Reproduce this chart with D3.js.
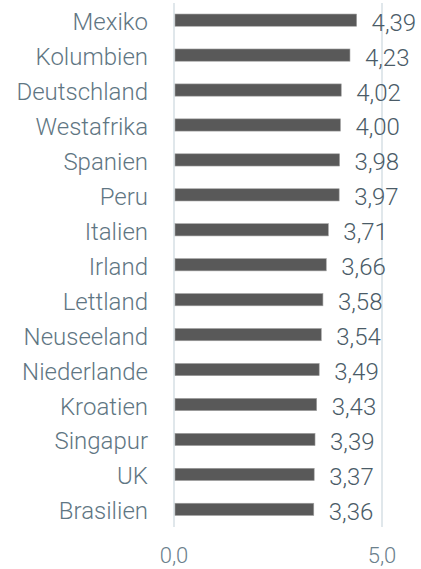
<!DOCTYPE html>
<html>
<head>
<meta charset="utf-8">
<script src="https://cdn.jsdelivr.net/npm/d3@7"></script>
<style>
  body { margin: 0; background: #fff; }
  text { font-family: Roboto, "Open Sans", sans-serif; font-weight: 300; }
</style>
</head>
<body>
<svg id="chart" width="421" height="569"></svg>
<script>
var categories = ['Mexiko', 'Kolumbien', 'Deutschland', 'Westafrika', 'Spanien', 'Peru', 'Italien',
  'Irland', 'Lettland', 'Neuseeland', 'Niederlande', 'Kroatien', 'Singapur', 'UK', 'Brasilien'];
var values = [4.39, 4.23, 4.02, 4.00, 3.98, 3.97, 3.71, 3.66, 3.58, 3.54, 3.49, 3.43, 3.39, 3.37, 3.36];
var ticks = [0, 5];

var svg = d3.select('#chart');
var fmt = function(v, d) { return v.toFixed(d).replace('.', ','); };

var x = d3.scaleLinear().domain([0, 5]).range([174, 382]);
var y = d3.scaleBand().domain(categories).range([2.5, 527]).paddingInner(0.65).paddingOuter(0.33);

// gridlines
svg.append('g').selectAll('line').data(ticks).enter().append('line')
  .attr('x1', function(d) { return x(d); })
  .attr('x2', function(d) { return x(d); })
  .attr('y1', 3)
  .attr('y2', 527)
  .attr('stroke', '#d6dfe5')
  .attr('stroke-width', 1.5);

// bars
svg.append('g').selectAll('rect').data(values).enter().append('rect')
  .attr('x', x(0) + 1)
  .attr('y', function(d, i) { return y(categories[i]); })
  .attr('width', function(d) { return x(d) - x(0) - 1; })
  .attr('height', y.bandwidth())
  .attr('fill', '#595959')
  .attr('stroke', '#a0a0a0')
  .attr('stroke-width', 0.6);

// category labels
svg.append('g').selectAll('text').data(categories).enter().append('text')
  .attr('x', 148)
  .attr('y', function(d) { return y(d) + y.bandwidth() / 2 + 10; })
  .attr('text-anchor', 'end')
  .attr('font-size', 24)
  .attr('fill', '#5f7683')
  .text(function(d) { return d; });

// value labels
svg.append('g').selectAll('text').data(values).enter().append('text')
  .attr('x', function(d) { return x(d) + 15; })
  .attr('y', function(d, i) { return y(categories[i]) + y.bandwidth() / 2 + 10.5; })
  .attr('font-size', 24)
  .attr('fill', '#4a5b67')
  .text(function(d) { return fmt(d, 2); });

// axis tick labels
svg.append('g').selectAll('text').data(ticks).enter().append('text')
  .attr('x', function(d) { return x(d); })
  .attr('y', 563)
  .attr('text-anchor', 'middle')
  .attr('font-size', 22)
  .attr('fill', '#6b808c')
  .text(function(d) { return fmt(d, 1); });
</script>
</body>
</html>
